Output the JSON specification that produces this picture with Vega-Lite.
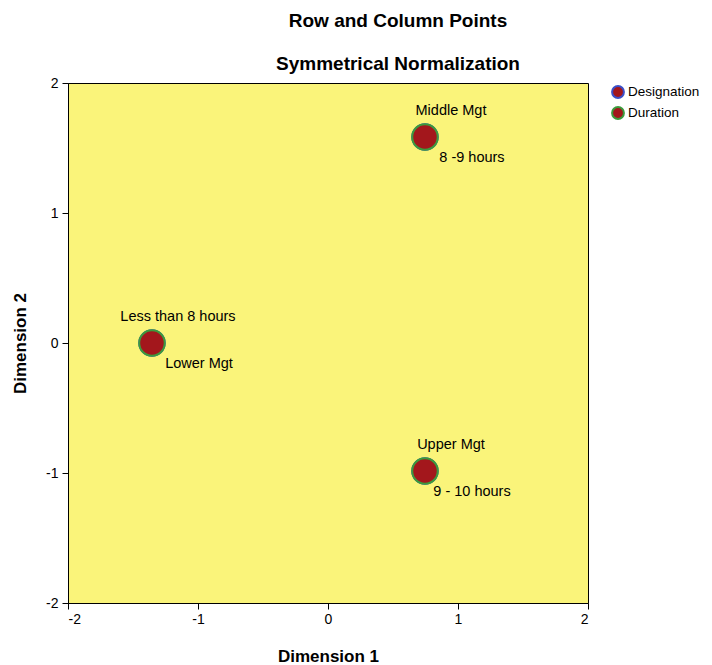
{
  "$schema": "https://vega.github.io/schema/vega-lite/v6.json",
  "autosize": {"type": "none"},
  "padding": {"left": 68, "top": 83, "right": 124, "bottom": 62},
  "width": 520,
  "height": 520,
  "background": "white",
  "title": {
    "text": ["Row and Column Points", "Symmetrical Normalization"],
    "font": "Liberation Sans",
    "fontSize": 19,
    "fontWeight": "bold",
    "lineHeight": 43,
    "color": "black",
    "anchor": "middle",
    "dx": 70,
    "offset": 2
  },
  "data": {
    "values": [
      {"series": "Designation", "label": "Middle Mgt", "d1": 0.746, "d2": 1.585},
      {"series": "Designation", "label": "Lower Mgt", "d1": -1.354, "d2": 0.0},
      {"series": "Designation", "label": "Upper Mgt", "d1": 0.746, "d2": -0.985},
      {"series": "Duration", "label": "8 -9 hours", "d1": 0.746, "d2": 1.585},
      {"series": "Duration", "label": "Less than 8 hours", "d1": -1.354, "d2": 0.0},
      {"series": "Duration", "label": "9 - 10 hours", "d1": 0.746, "d2": -0.985}
    ]
  },
  "config": {
    "view": {"fill": "#FAF47A", "stroke": "black", "strokeWidth": 1},
    "font": "Liberation Sans",
    "axis": {
      "grid": false,
      "domainColor": "black",
      "tickColor": "black",
      "labelColor": "black",
      "labelFont": "Liberation Sans",
      "labelFontSize": 14,
      "titleFont": "Liberation Sans",
      "titleFontSize": 17,
      "titleFontWeight": "bold",
      "titleColor": "black",
      "tickSize": 6
    }
  },
  "encoding": {
    "x": {
      "field": "d1", "type": "quantitative",
      "scale": {"domain": [-2, 2], "nice": false, "zero": false},
      "axis": {"title": "Dimension 1", "values": [-2, -1, 0, 1, 2], "labelExpr": "'' + datum.value", "titlePadding": 22, "labelPadding": 3}
    },
    "y": {
      "field": "d2", "type": "quantitative",
      "scale": {"domain": [-2, 2], "nice": false, "zero": false},
      "axis": {"title": "Dimension 2", "values": [-2, -1, 0, 1, 2], "labelExpr": "'' + datum.value", "titlePadding": 16, "labelPadding": 4}
    }
  },
  "layer": [
    {
      "mark": {"type": "point", "filled": true, "fill": "#A3171C", "size": 650, "strokeWidth": 2, "opacity": 1},
      "encoding": {
        "stroke": {
          "field": "series", "type": "nominal",
          "scale": {"domain": ["Designation", "Duration"], "range": ["#3A4FC8", "#3C9A3C"]},
          "legend": {
            "title": null,
            "orient": "none",
            "legendX": 543,
            "legendY": 2,
            "labelFont": "Liberation Sans",
            "labelFontSize": 13.5,
            "labelColor": "black",
            "symbolType": "circle",
            "symbolSize": 140,
            "symbolFillColor": "#A3171C",
            "symbolStrokeWidth": 2,
            "rowPadding": 1,
            "labelOffset": 3
          }
        }
      }
    },
    {
      "transform": [{"filter": {"field": "label", "oneOf": ["Middle Mgt", "Less than 8 hours", "Upper Mgt"]}}],
      "mark": {"type": "text", "align": "center", "baseline": "middle", "dx": 26, "dy": -26, "fontSize": 14.5, "font": "Liberation Sans", "color": "black"},
      "encoding": {"text": {"field": "label"}}
    },
    {
      "transform": [{"filter": {"field": "label", "oneOf": ["8 -9 hours", "Lower Mgt", "9 - 10 hours"]}}],
      "mark": {"type": "text", "align": "center", "baseline": "middle", "dx": 47, "dy": 21, "fontSize": 14.5, "font": "Liberation Sans", "color": "black"},
      "encoding": {"text": {"field": "label"}}
    }
  ]
}
